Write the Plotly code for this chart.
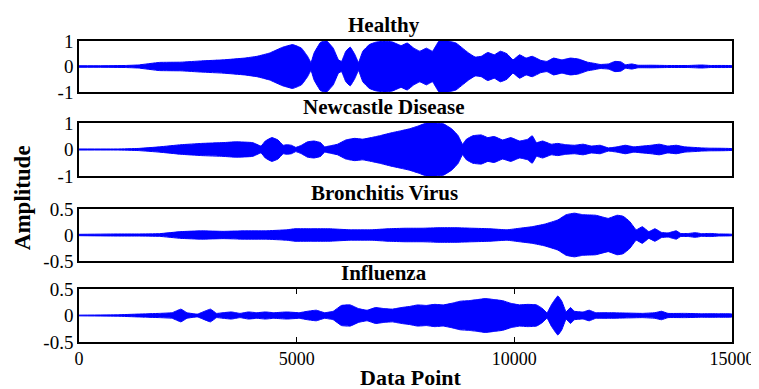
import plotly.graph_objects as go
from plotly.subplots import make_subplots

# ---- Data: envelope (peak amplitude) of each waveform ----
healthy_x = [0, 490, 1070, 1360, 1850, 2340, 2820, 3310, 3800, 4090, 4380, 4670, 4910, 5110,
             5250, 5330, 5400, 5550, 5690, 5840, 5960, 6030, 6130, 6230, 6340, 6420, 6520,
             6670, 6810, 7010, 7200, 7400, 7540, 7690, 7830, 7980, 8120, 8270, 8470, 8660,
             8810, 8950, 9100, 9240, 9390, 9540, 9680, 9830, 9970, 10120, 10270, 10410,
             10610, 10750, 10900, 11090, 11290, 11480, 11680, 11820, 11970, 12160, 12310,
             12450, 12550, 12700, 12840, 13140, 13520, 14010, 14300, 14500, 15000]
healthy_a = [0.03, 0.03, 0.04, 0.06, 0.16, 0.17, 0.22, 0.26, 0.33, 0.40, 0.53, 0.75, 0.86, 0.72,
             0.40, 0.16, 0.53, 0.95, 1.00, 0.72, 0.26, 0.20, 0.60, 0.76, 0.46, 0.16, 0.60,
             0.86, 0.95, 1.00, 0.96, 0.82, 0.92, 0.72, 0.60, 0.72, 0.60, 1.00, 1.00, 0.92,
             0.72, 0.53, 0.37, 0.40, 0.55, 0.46, 0.60, 0.50, 0.26, 0.46, 0.33, 0.40,
             0.24, 0.20, 0.33, 0.26, 0.33, 0.29, 0.17, 0.13, 0.08, 0.10, 0.20,
             0.18, 0.07, 0.10, 0.05, 0.05, 0.04, 0.04, 0.06, 0.04, 0.03]

newcastle_x = [0, 880, 1360, 1850, 2340, 2820, 3310, 3600, 3990, 4180, 4280, 4430, 4570, 4690,
               4770, 4880, 4980, 5110, 5250, 5400, 5550, 5640, 5740, 5940, 6130, 6330, 6520,
               6710, 6910, 7150, 7400, 7590, 7780, 7980, 8170, 8370, 8560, 8710, 8810, 8900,
               9050, 9240, 9390, 9540, 9730, 9920, 10120, 10310, 10410, 10510, 10650, 10850,
               10990, 11190, 11380, 11580, 11770, 11970, 12160, 12360, 12550, 12750, 12940,
               13140, 13330, 13530, 13720, 13910, 14110, 14300, 14500, 15000]
newcastle_a = [0.02, 0.02, 0.04, 0.10, 0.18, 0.23, 0.26, 0.29, 0.26, 0.13, 0.32, 0.45, 0.36, 0.16,
               0.18, 0.16, 0.08, 0.16, 0.29, 0.32, 0.26, 0.10, 0.13, 0.20, 0.36, 0.42, 0.39,
               0.45, 0.52, 0.62, 0.71, 0.78, 0.88, 1.00, 1.00, 0.97, 0.78, 0.52, 0.20, 0.39,
               0.52, 0.55, 0.45, 0.49, 0.36, 0.45, 0.32, 0.39, 0.52, 0.26, 0.32, 0.20,
               0.23, 0.18, 0.16, 0.20, 0.13, 0.16, 0.06, 0.10, 0.16, 0.10, 0.13,
               0.16, 0.20, 0.13, 0.16, 0.10, 0.08, 0.06, 0.05, 0.03]

bronchitis_x = [0, 880, 1360, 1850, 2340, 2820, 3310, 3800, 4280, 4770, 4960, 5350, 5740, 6230,
                6710, 7100, 7490, 7880, 8270, 8660, 9050, 9440, 9830, 10120, 10410, 10700,
                11000, 11190, 11380, 11580, 11870, 12160, 12360, 12500, 12650, 12800, 12940,
                13090, 13230, 13380, 13530, 13720, 13820, 14010, 14160, 14300, 14500, 14690,
                15000]
bronchitis_a = [0.013, 0.02, 0.02, 0.026, 0.065, 0.08, 0.07, 0.08, 0.08, 0.10, 0.12, 0.12, 0.12,
                0.10, 0.10, 0.12, 0.13, 0.13, 0.14, 0.14, 0.13, 0.12, 0.10, 0.13, 0.16, 0.21,
                0.29, 0.39, 0.42, 0.39, 0.38, 0.32, 0.38, 0.36, 0.26, 0.10, 0.16,
                0.065, 0.12, 0.05, 0.04, 0.08, 0.03, 0.03, 0.045, 0.026, 0.03, 0.02,
                0.013]

influenza_x = [0, 880, 1360, 1850, 2140, 2340, 2480, 2720, 3020, 3160, 3310, 3500, 3700, 3890,
               4090, 4280, 4480, 4770, 5060, 5250, 5450, 5640, 5840, 6030, 6230, 6420, 6620,
               6810, 7010, 7200, 7400, 7590, 7780, 7980, 8170, 8370, 8560, 8760, 8950, 9150,
               9340, 9540, 9730, 9920, 10120, 10310, 10510, 10650, 10750, 10850, 11000, 11090,
               11190, 11290, 11380, 11580, 11720, 11870, 12160, 12550, 12940, 13230, 13380,
               13530, 13910, 14300, 14690, 15000]
influenza_a = [0.007, 0.013, 0.027, 0.04, 0.053, 0.12, 0.053, 0.027, 0.12, 0.04, 0.053, 0.067,
               0.04, 0.067, 0.053, 0.067, 0.053, 0.067, 0.053, 0.08, 0.10, 0.053, 0.08, 0.19,
               0.20, 0.13, 0.10, 0.15, 0.13, 0.12, 0.15, 0.17, 0.20, 0.19, 0.21, 0.20, 0.23,
               0.27, 0.28, 0.30, 0.32, 0.30, 0.28, 0.23, 0.20, 0.21, 0.20, 0.13, 0.05, 0.20,
               0.37, 0.27, 0.07, 0.15, 0.08, 0.067, 0.10, 0.053, 0.053, 0.047, 0.04, 0.053,
               0.08, 0.04, 0.04, 0.033, 0.033, 0.027]

titles = ["Healthy", "Newcastle Disease", "Bronchitis Virus", "Influenza"]
y_ranges = [[-1, 1], [-1, 1], [-0.5, 0.5], [-0.5, 0.5]]
y_ticks = [[-1, 0, 1], [-1, 0, 1], [-0.5, 0, 0.5], [-0.5, 0, 0.5]]
y_ticktext = [["-1", "0", "1"], ["-1", "0", "1"], ["-0.5", "0", "0.5"], ["-0.5", "0", "0.5"]]
x_ticks = [0, 5000, 10000, 15000]
x_ticktext = ["0", "5000", "10000", "15000"]
series = [(healthy_x, healthy_a), (newcastle_x, newcastle_a),
          (bronchitis_x, bronchitis_a), (influenza_x, influenza_a)]

# ---- Layout geometry (target pixels in the window) ----
W, H = 759, 389
OFF = 8                      # default page body margin
L, R = 79, 734
panels_px = [(41, 92), (123, 176), (209, 261), (289, 342)]
top, bot = 41, 342
ph = bot - top

fig = make_subplots(rows=4, cols=1)
FONT = "Liberation Serif, Times New Roman, serif"
BLUE = "#0000ff"

for i, (xs, amps) in enumerate(series):
    px = list(xs) + list(xs)[::-1]
    py = [a for a in amps] + [-a for a in amps][::-1]
    fig.add_trace(go.Scatter(x=px, y=py, mode="lines", fill="toself",
                             fillcolor=BLUE, line=dict(color=BLUE, width=1, shape="spline",
                                                       smoothing=0.3),
                             hoverinfo="skip", showlegend=False), row=i + 1, col=1)

for i in range(4):
    t, b = panels_px[i]
    d0 = (bot - b) / ph
    d1 = (bot - t) / ph
    n = "" if i == 0 else str(i + 1)
    last = i == 3
    fig.layout["yaxis" + n].update(domain=[d0, d1], range=y_ranges[i],
                                   tickvals=y_ticks[i], ticktext=y_ticktext[i],
                                   showgrid=False, zeroline=False, showline=True,
                                   linecolor="black", linewidth=1.5, mirror=True,
                                   ticks="", ticklen=0,
                                   tickfont=dict(family=FONT, size=19, color="black"))
    fig.layout["xaxis" + n].update(range=[0, 15000], showgrid=False, zeroline=False,
                                   showline=True, linecolor="black", linewidth=1.5,
                                   mirror="ticks" if last else True,
                                   tickvals=x_ticks if last else [],
                                   ticktext=x_ticktext if last else [],
                                   ticks="inside" if last else "", ticklen=5,
                                   tickcolor="black",
                                   showticklabels=last,
                                   tickfont=dict(family=FONT, size=18, color="black"))
    fig.add_annotation(text="<b>%s</b>" % titles[i], xref="paper", yref="paper",
                       x=(385 - L) / (R - L), y=(bot - (t - 16)) / ph,
                       xanchor="center", yanchor="middle", showarrow=False,
                       font=dict(family=FONT, size=21, color="black"))

fig.add_annotation(text="<b>Data Point</b>", xref="paper", yref="paper",
                   x=(412 - L) / (R - L), y=(bot - 377) / ph, xanchor="center",
                   yanchor="middle", showarrow=False,
                   font=dict(family=FONT, size=22, color="black"))
fig.add_annotation(text="<b>Amplitude</b>", xref="paper", yref="paper",
                   x=(22 - L) / (R - L), y=(bot - 198) / ph, xanchor="center",
                   yanchor="middle", textangle=-90, showarrow=False,
                   font=dict(family=FONT, size=23, color="black"))

fig.update_layout(width=W, height=H,
                  margin=dict(l=L - OFF, r=W + OFF - R, t=top - OFF, b=H + OFF - bot),
                  paper_bgcolor="white", plot_bgcolor="white", showlegend=False)

fig.write_html("out.html", config={"displayModeBar": False})
